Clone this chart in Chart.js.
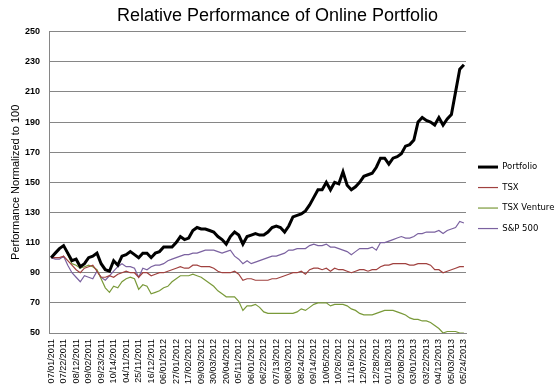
<!DOCTYPE html>
<html>
<head>
<meta charset="utf-8">
<style>
  html, body { margin: 0; padding: 0; background: #fff; }
  #wrap { width: 555px; height: 391px; }
</style>
</head>
<body>
<div id="wrap"><canvas id="grafico"></canvas></div>

<script src="https://cdn.jsdelivr.net/npm/chart.js"></script>
<script>
  // weekly closes, normalized to 100 on 07/01/2011
  const portfolio = [
    100, 103, 106, 108, 103, 98, 99, 94, 96, 100,
    101, 103, 96, 92, 91, 98, 95, 101, 102, 104,
    102, 100, 103, 103, 100, 103, 104, 107, 107, 107,
    110, 114, 112, 113, 118, 120, 119, 119, 118, 117,
    114, 112, 109, 114, 117, 115, 109, 114, 115, 116,
    115, 115, 117, 120, 121, 120, 117, 121, 127, 128,
    129, 131, 135, 140, 145, 145, 150, 145, 150, 149,
    157, 148, 145, 147, 150, 154, 155, 156, 160, 166,
    166, 162, 166, 167, 169, 174, 175, 178, 190, 193,
    191, 190, 188, 193, 188, 192, 195, 210, 225, 228
  ];
  const tsx = [
    100, 100, 100, 101, 98, 95, 92, 90, 93, 94,
    95, 91, 87, 87, 88, 87, 89, 90, 91, 90,
    90, 87, 90, 90, 88, 89, 90, 90, 91, 92,
    93, 94, 93, 93, 95, 95, 94, 94, 94, 93,
    91, 90, 90, 90, 91, 89, 85, 86, 86, 85,
    85, 85, 85, 86, 86, 87, 88, 89, 90, 90,
    91, 89, 92, 93, 93, 92, 93, 91, 93, 92,
    92, 91, 90, 91, 92, 92, 91, 92, 92, 94,
    95, 95, 96, 96, 96, 96, 95, 95, 96, 96,
    96, 95, 92, 92, 90, 91, 92, 93, 94, 94
  ];
  const tsxVenture = [
    100, 103, 106, 108, 102, 96, 95, 93, 94, 95,
    94, 92, 86, 80, 77, 81, 80, 84, 86, 87,
    86, 79, 82, 81, 76, 77, 78, 80, 81, 84,
    86, 88, 88, 88, 89, 88, 87, 85, 83, 81,
    78, 76, 74, 74, 74, 71, 65, 68, 68, 69,
    67, 64, 63, 63, 63, 63, 63, 63, 63, 64,
    66, 65, 67, 69, 70, 70, 70, 68, 69, 69,
    69, 68, 66, 65, 63, 62, 62, 62, 63, 64,
    65, 65, 65, 64, 63, 62, 60, 59, 59, 58,
    58, 57, 55, 53, 50, 51, 51, 51, 50, 50
  ];
  const sp500 = [
    100, 99, 99, 101, 95, 90, 87, 84, 88, 87,
    86, 91, 87, 85, 88, 91, 94, 96, 94, 94,
    93, 87, 93, 92, 94, 95, 95, 96, 98, 99,
    100, 101, 102, 102, 103, 103, 104, 105, 105, 105,
    104, 103, 104, 105, 101, 99, 96, 98, 96, 97,
    98, 99, 100, 101, 101, 102, 103, 105, 105, 106,
    106, 106, 108, 109, 108, 108, 109, 107, 107, 106,
    105, 104, 102, 104, 106, 106, 106, 107, 105, 110,
    110, 111, 112, 113, 114, 113, 113, 114, 116, 116,
    117, 117, 117, 118, 116, 118, 119, 120, 124, 123
  ];
  // one label every third week
  const tickLabels = [
    "07/01/2011", "07/22/2011", "08/12/2011", "09/02/2011", "09/23/2011",
    "10/14/2011", "04/11/2011", "25/11/2011", "16/12/2011", "06/01/2012",
    "27/01/2012", "17/02/2012", "09/03/2012", "30/03/2012", "20/04/2012",
    "05/11/2012", "06/01/2012", "06/22/2012", "07/13/2012", "08/03/2012",
    "08/24/2012", "09/14/2012", "10/05/2012", "10/26/2012", "11/16/2012",
    "12/07/2012", "12/28/2012", "01/18/2013", "02/08/2013", "03/01/2013",
    "03/22/2013", "04/12/2013", "05/03/2013", "05/24/2013"
  ];
  const weeks = portfolio.map((_, i) => i);

  const ctx = document.getElementById("grafico").getContext("2d");

  new Chart(ctx, {
    type: "line",
    data: {
      labels: weeks,
      datasets: [
        { label: "Portfolio", data: portfolio, borderColor: "#000000", backgroundColor: "#000000", borderWidth: 3 },
        { label: "TSX", data: tsx, borderColor: "#A0413F", backgroundColor: "#A0413F", borderWidth: 1.2 },
        { label: "TSX Venture", data: tsxVenture, borderColor: "#7A9A3A", backgroundColor: "#7A9A3A", borderWidth: 1.2 },
        { label: "S&P 500", data: sp500, borderColor: "#7B62A0", backgroundColor: "#7B62A0", borderWidth: 1.2 },
      ]
    },
    options: {
      responsive: true,
      maintainAspectRatio: false,
      animation: false,
      elements: {
        point: { radius: 0 },
        line: { tension: 0 }
      },
      layout: { padding: { left: 0, right: 0, top: 1, bottom: 0 } },
      plugins: {
        title: {
          display: true,
          text: "Relative Performance of Online Portfolio",
          color: "#000",
          font: { family: "Liberation Sans", size: 18, weight: "normal" },
          padding: { top: 4, bottom: 5 }
        },
        legend: {
          position: "right",
          maxWidth: 89,
          // empty title only nudges the items down a little
          title: { display: true, text: " ", padding: 0, font: { size: 3 } },
          labels: {
            usePointStyle: true,
            pointStyle: "line",
            pointStyleWidth: 20,
            boxHeight: 9,
            padding: 12,
            color: "#000",
            font: { family: "DejaVu Sans", size: 8.5 }
          }
        },
        tooltip: { enabled: false }
      },
      scales: {
        x: {
          offset: true,
          grid: { display: false, drawTicks: false },
          border: { color: "#868686" },
          afterFit: (scale) => { scale.height = 58; },
          ticks: {
            autoSkip: false,
            minRotation: 90,
            maxRotation: 90,
            padding: 6,
            color: "#000",
            font: { family: "Liberation Sans", size: 9 },
            callback: (v, i) => (i % 3 === 0 ? tickLabels[i / 3] : "")
          }
        },
        y: {
          min: 50,
          max: 250,
          grid: { color: "#868686", drawTicks: false },
          border: { color: "#868686" },
          afterFit: (scale) => { scale.width = 49; },
          ticks: {
            stepSize: 20,
            padding: 9,
            color: "#000",
            font: { family: "Liberation Sans", size: 9, weight: "bold" }
          },
          title: {
            display: true,
            text: "Performance Normalized to 100",
            color: "#000",
            padding: { top: 9, bottom: 1 },
            font: { family: "Liberation Sans", size: 11 }
          }
        }
      }
    }
  });
</script>
</body>
</html>
